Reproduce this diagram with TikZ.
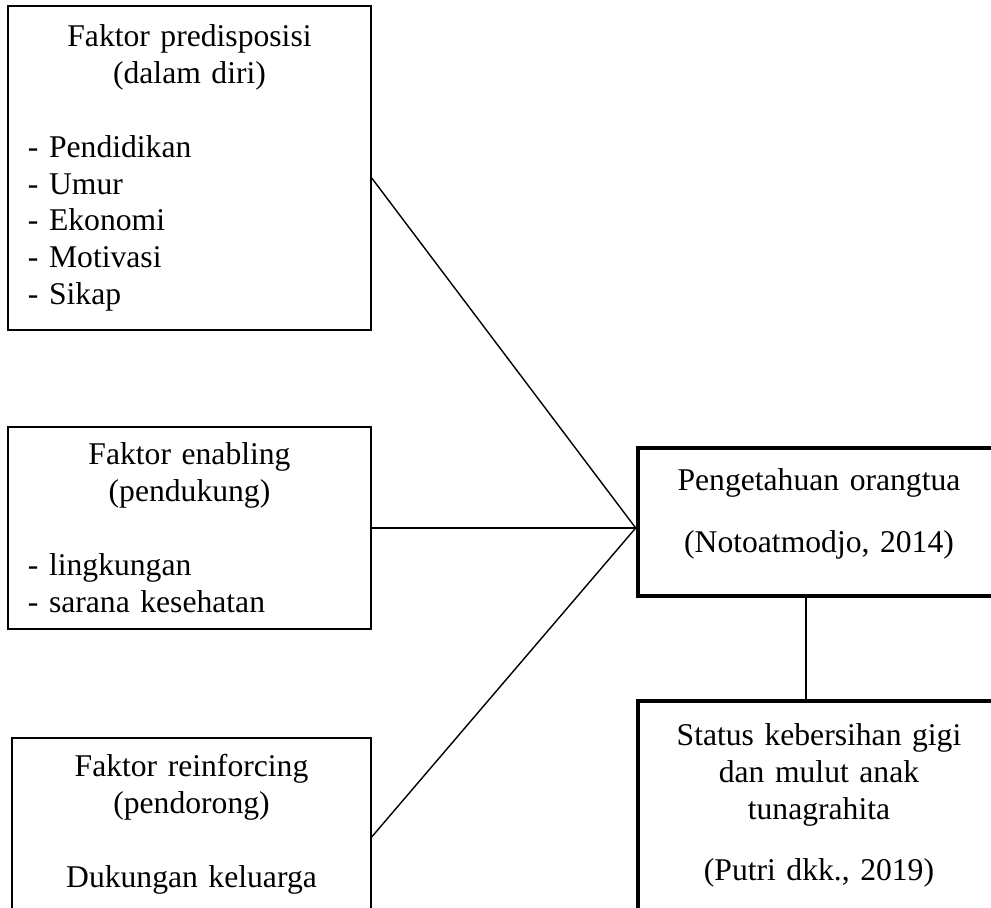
\documentclass[tikz,border=0pt]{standalone}
\usepackage{fontspec}
\setmainfont{Liberation Serif}
\usetikzlibrary{positioning}

\tikzset{
	faktor/.style={draw, rectangle, line width=0.8pt, inner xsep=0.4cm, inner ysep=0pt, align=center},
	hasil/.style={draw, rectangle, line width=2.6pt, inner xsep=0.4cm, inner ysep=0pt, align=center},
	link/.style={line width=0.8pt}
}

\begin{document}
\begin{tikzpicture}[font=\fontsize{18pt}{21pt}\selectfont]
			
			\useasboundingbox (0,0) rectangle (19.82,18.16);
			
			%Faktor
			\node (predisposisi) at (3.79,14.80) [faktor, text width=6.46cm, minimum width=7.26cm, minimum 
			height=6.48cm]{Faktor predisposisi\\(dalam diri)\par\vspace{0.74cm}\raggedright
			- Pendidikan\\- Umur\\- Ekonomi\\- Motivasi\\- Sikap\par};
			\node (enabling) at (3.79,7.60) [faktor, text width=6.46cm, minimum width=7.26cm, minimum 
			height=4.04cm]{Faktor enabling\\(pendukung)\par\vspace{0.74cm}\raggedright
			- lingkungan\\- sarana kesehatan\par};
			\node (reinforcing) at (3.83,1.68) [faktor, text width=6.38cm, minimum width=7.18cm, minimum 
			height=3.44cm]{Faktor reinforcing\\(pendorong)\\[0.74cm]Dukungan keluarga};
			
			%Pengetahuan dan status
			\node (pengetahuan) at (16.38,7.72) [hasil, text width=6.44cm, minimum width=7.24cm, minimum 
			height=2.96cm]{Pengetahuan orangtua\\[0.52cm](Notoatmodjo, 2014)\rule[-0.46cm]{0pt}{0pt}};
			\node (status) at (16.38,2.05) [hasil, text width=6.44cm, minimum width=7.24cm, minimum 
			height=4.18cm]{Status kebersihan gigi\\dan mulut anak\\tunagrahita\\[0.48cm](Putri dkk., 2019)};
			
			%Links
			\coordinate (hub) at (pengetahuan.west |- enabling.east);
			\draw[link] ([yshift=-0.2cm]predisposisi.east) -- (hub);
			\draw[link] (enabling.east) -- (hub);
			\draw[link] ([yshift=-0.26cm]reinforcing.east) -- (hub);
			\draw[link] ([xshift=-0.26cm]pengetahuan.south) -- ([xshift=-0.26cm]status.north);
			
\end{tikzpicture}
\end{document}
